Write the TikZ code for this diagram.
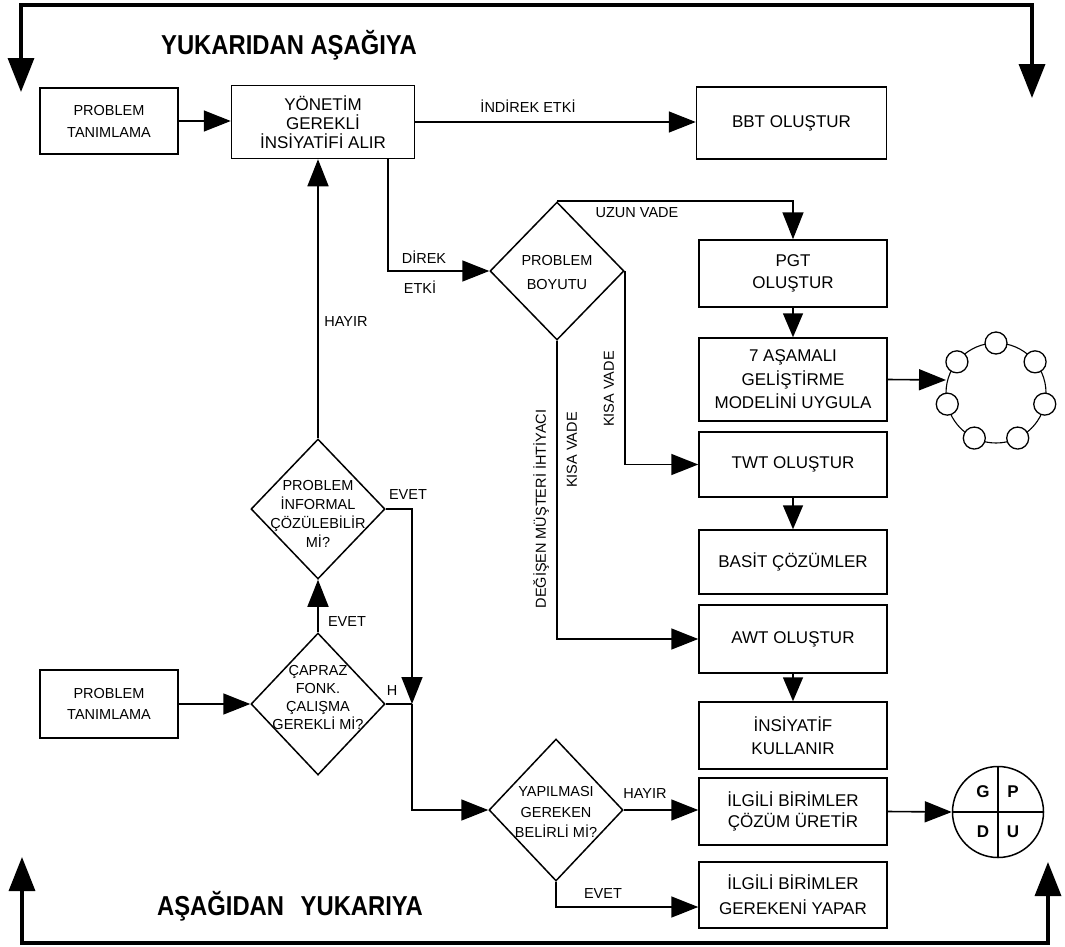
\documentclass[tikz,border=0pt]{standalone}
\usepackage{fontspec}
\usepackage{graphicx}
\setmainfont{Liberation Sans}
\usetikzlibrary{arrows.meta,shapes.geometric}
\newcommand{\fsz}[2]{\fontsize{#1}{#2}\selectfont}
\begin{document}
\begin{tikzpicture}[x=1pt,y=-1pt,
  box/.style={draw, line width=1.5pt, inner sep=0pt, align=center, minimum width=188pt},
  lbox/.style={draw, line width=1.5pt, inner sep=0pt, align=center, minimum width=138pt, font=\fsz{14.5}{22}},
  dia/.style={draw, diamond, line width=1.5pt, inner sep=0pt, minimum width=134pt, minimum height=140pt},
  dtxt/.style={font=\fsz{14.5}{19}, align=center, inner sep=0pt},
  lab/.style={font=\fsz{14.5}{16}, inner sep=0pt},
  conn/.style={line width=1.6pt},
  arr/.style={conn, -{Triangle[length=27pt,width=21pt]}},
  sarr/.style={conn, -{Triangle[length=24pt,width=20pt]}},
  framearr/.style={line width=3.5pt, {Triangle[length=34pt,width=26pt]}-{Triangle[length=34pt,width=26pt]}},
  titletxt/.style={font=\bfseries\fsz{23.8}{28}, inner sep=0pt},
  ringc/.style={circle, draw, fill=white, line width=1.3pt, minimum size=22pt, inner sep=0pt},
]
\useasboundingbox (0,0) rectangle (1065,946);
\fill[white] (0,0) rectangle (1065,946);

% frame
\coordinate (tl) at (21,92);
\coordinate (tlc) at (21,5);
\coordinate (trc) at (1032,5);
\coordinate (tr) at (1032,98);
\draw[framearr] (tl) -- (tlc) -- (trc) -- (tr);
\coordinate (bl) at (22,857);
\coordinate (blc) at (22,943);
\coordinate (brc) at (1048,943);
\coordinate (br) at (1048,862);
\draw[framearr] (bl) -- (blc) -- (brc) -- (br);
\node[titletxt] (t1) at (289,45) {\scalebox{1}[1.15]{YUKARIDAN AŞAĞIYA}};
\node[titletxt] (t2) at (290,906) {\scalebox{1}[1.15]{AŞAĞIDAN\hspace{0.7em}YUKARIYA}};

% boxes
\node[lbox, minimum height=66pt] (p1) at (109,121) {PROBLEM\\TANIMLAMA};
\node[box, minimum width=183pt, minimum height=73pt, font=\fsz{17}{19}] (yon) at (323,122) {YÖNETİM\\GEREKLİ\\İNSİYATİFİ ALIR};
\node[box, minimum width=190pt, minimum height=72pt, font=\fsz{17}{21}] (bbt) at (791.5,123) {BBT OLUŞTUR};
\node[box, minimum height=67pt, font=\fsz{17}{21.5}] (pgt) at (793,273.5) {PGT\\OLUŞTUR};
\node[box, minimum height=83pt, font=\fsz{17}{23.5}] (s7) at (793,379.5) {7 AŞAMALI\\GELİŞTİRME\\MODELİNİ UYGULA};
\node[box, minimum height=65pt, font=\fsz{17}{21}] (twt) at (793,464.5) {TWT OLUŞTUR};
\node[box, minimum height=64pt, font=\fsz{17}{21}] (bas) at (793,562) {BASİT ÇÖZÜMLER};
\node[box, minimum height=68pt, font=\fsz{17}{21}] (awt) at (793,639) {AWT OLUŞTUR};
\node[box, minimum height=67pt, font=\fsz{17}{23}] (ins) at (793,735.5) {İNSİYATİF\\KULLANIR};
\node[box, minimum height=67pt, font=\fsz{17}{21}] (coz) at (793,811.5) {İLGİLİ BİRİMLER\\ÇÖZÜM ÜRETİR};
\node[box, minimum height=66pt, font=\fsz{17}{25}] (ger) at (793,895) {İLGİLİ BİRİMLER\\GEREKENİ YAPAR};
\node[lbox, minimum height=68pt, font=\fsz{14.5}{21}] (p2) at (109,704) {PROBLEM\\TANIMLAMA};

% diamonds
\node[dia] (inf) at (318,509) {};
\node[dtxt] (inft) at (318,514) {PROBLEM\\İNFORMAL\\ÇÖZÜLEBİLİR\\Mİ?};
\node[dia, minimum height=142pt] (cap) at (318,704) {};
\node[dtxt, font=\fsz{14.5}{18}] (capt) at (318,697) {ÇAPRAZ\\FONK.\\ÇALIŞMA\\GEREKLİ Mİ?};
\node[dia, minimum height=138pt] (pb) at (557,271) {};
\node[dtxt, font=\fsz{14.5}{24}] (pbt) at (557,272) {PROBLEM\\BOYUTU};
\node[dia, minimum height=142pt] (yap) at (556,810) {};
\node[dtxt, font=\fsz{14.5}{20.5}] (yapt) at (556,812) {YAPILMASI\\GEREKEN\\BELİRLİ Mİ?};

% ring of seven
\node[circle, draw, line width=1.1pt, minimum size=100pt, inner sep=0pt] (ring) at (996,393) {};
\foreach \i in {0,...,6}{
  \node[ringc] (rc\i) at ([shift={(-90+\i*51.4286:50)}]ring.center) {};
}
\coordinate (ringin) at (946,380);

% PDCA circle
\node[circle, draw, line width=1.5pt, minimum size=91pt, inner sep=0pt] (g) at (998,812) {};
\draw[line width=1.5pt] (g.north) -- (g.south);
\draw[line width=1.5pt] (g.west) -- (g.east);
\node[font=\bfseries\fsz{17}{17}] (gG) at (983,792) {G};
\node[font=\bfseries\fsz{17}{17}] (gP) at (1013,792) {P};
\node[font=\bfseries\fsz{17}{17}] (gD) at (983,832) {D};
\node[font=\bfseries\fsz{17}{17}] (gU) at (1013,832) {U};

% connectors
\draw[arr] (p1.east) -- (p1.east -| yon.west);
\draw[arr] (yon.east) -- (yon.east -| bbt.west);
\node[lab] (lind) at (528,106) {İNDİREK ETKİ};
\draw[arr] ([xshift=65pt]yon.south) |- (pb.west);
\node[lab] (ldir) at (424,257) {DİREK};
\node[lab] (letk) at (420,287) {ETKİ};
\draw[arr] (pb.north) -| (pgt.north);
\node[lab] (luzun) at (637,213) {UZUN VADE};
\draw[sarr] (pgt) -- (s7);
\draw[arr] (s7.east) -- (ringin);
\draw[arr] (pb.east) |- (twt.west);
\node[lab, rotate=90] (lk1) at (609,389) {KISA VADE};
\draw[sarr] (twt) -- (bas);
\draw[arr] (pb.south) |- (awt.west);
\node[lab, rotate=90] (ldeg) at (541,509) {DEĞİŞEN MÜŞTERİ İHTİYACI};
\node[lab, rotate=90] (lk2) at (572,450) {KISA VADE};
\draw[sarr] (awt) -- (ins);

\draw[arr] (inf.north) -- (inf.north |- yon.south);
\node[lab] (lhay1) at (346,322) {HAYIR};
\draw[arr] (cap.north) -- (inf.south);
\node[lab] (levet1) at (347,621) {EVET};
\draw[arr] (p2.east) -- (p2.east -| cap.west);
\coordinate (j) at (412,704);
\draw[arr] (inf.east) -| (j);
\node[lab] (levet2) at (408,495) {EVET};
\draw[conn] (cap.east) -- (j);
\node[lab] (lh) at (392,690) {H};
\draw[arr] (j) |- (yap.west);
\draw[arr] (yap.east) -- (yap.east -| coz.west);
\node[lab] (lhay2) at (645,793) {HAYIR};
\draw[arr] (yap.south) |- ([yshift=-12pt]ger.west);
\node[lab] (levet3) at (603,893) {EVET};
\draw[arr] (coz.east) -- (g.west);
\end{tikzpicture}
\end{document}
